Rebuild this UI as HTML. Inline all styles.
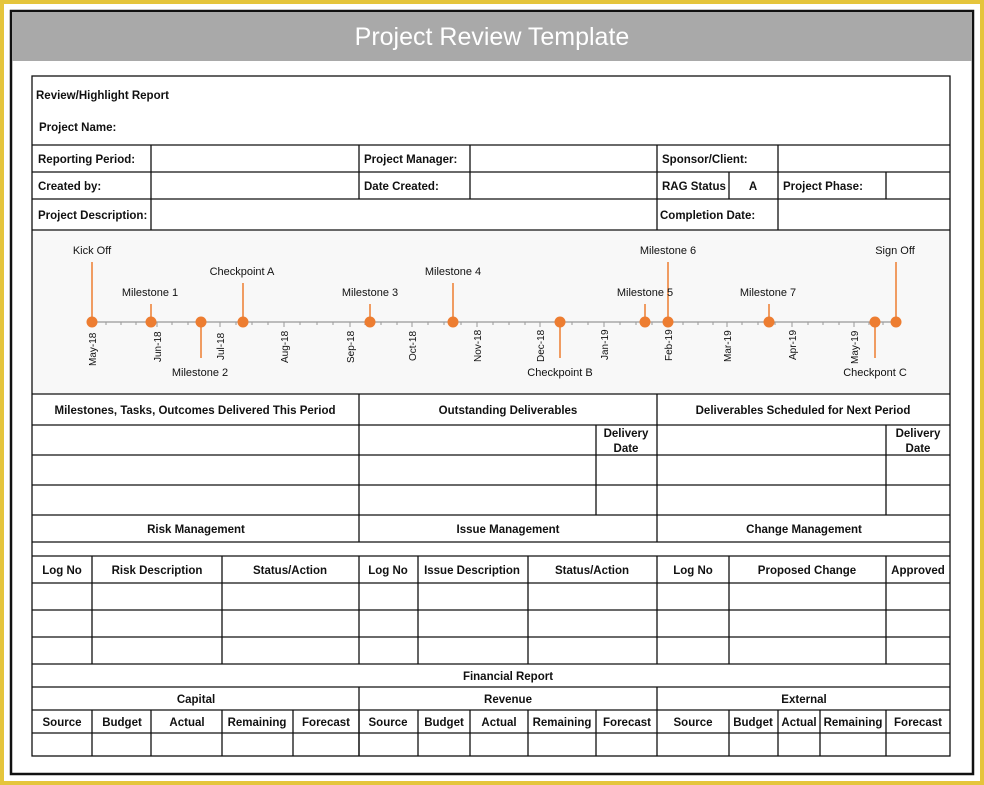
<!DOCTYPE html>
<html><head><meta charset="utf-8"><style>
html,body{margin:0;padding:0;background:#fff}
svg{display:block}
text{font-family:"Liberation Sans",sans-serif;fill:#111}
.b{font-weight:bold;font-size:11.5px}
.c{text-anchor:middle}
.t{font-size:11px;fill:#222}
.m{font-size:10px;fill:#333}
</style></head><body>
<svg width="984" height="785" viewBox="0 0 984 785" xmlns="http://www.w3.org/2000/svg">
<rect x="0" y="0" width="984" height="785" fill="#e5c53c"/>
<rect x="4" y="4" width="976" height="777" fill="#fff"/>
<rect x="11" y="11" width="962" height="763" fill="#fff" stroke="#111" stroke-width="2.5"/>
<rect x="12" y="12" width="960" height="49" fill="#a9a9a9"/>
<text x="492" y="45" class="c" style="font-size:25px;fill:#fff">Project Review Template</text>

<rect x="32" y="230" width="918" height="164" fill="#f8f8f8"/>
<g stroke="#111" stroke-width="1.3" fill="none">
<rect x="32" y="76" width="918" height="680"/>
<path d="M32 145H950M32 172H950M32 199H950M32 230H950M32 394H950M32 425H950M32 455H950M32 485H950M32 515H950M32 542H950M32 556H950M32 583H950M32 610H950M32 637H950M32 664H950M32 687H950M32 710H950M32 733H950"/>
<path d="M151 145V230M359 145V199M470 145V199M657 145V230M778 145V230M729 172V199M886 172V199"/>
<path d="M359 394V542M657 394V542M596 425V515M886 425V515"/>
<path d="M92 556V664M222 556V664M359 556V664M418 556V664M528 556V664M657 556V664M729 556V664M886 556V664"/>
<path d="M359 687V756M657 687V756"/>
<path d="M92 710V756M151 710V756M222 710V756M293 710V756M359 710V756M418 710V756M470 710V756M528 710V756M596 710V756M729 710V756M778 710V756M820 710V756M886 710V756"/>
</g>

<text x="36" y="99" class="b">Review/Highlight Report</text>
<text x="39" y="131" class="b">Project Name:</text>
<text x="38" y="163" class="b">Reporting Period:</text>
<text x="364" y="163" class="b">Project Manager:</text>
<text x="662" y="163" class="b">Sponsor/Client:</text>
<text x="38" y="190" class="b">Created by:</text>
<text x="364" y="190" class="b">Date Created:</text>
<text x="662" y="190" class="b">RAG Status</text>
<text x="753" y="190" class="b c">A</text>
<text x="783" y="190" class="b">Project Phase:</text>
<text x="38" y="219" class="b">Project Description:</text>
<text x="660" y="219" class="b">Completion Date:</text>

<g stroke="#999" stroke-width="1.2">
<line x1="92" y1="322" x2="897" y2="322"/>
</g>
<g stroke="#999" stroke-width="1">
<path d="M92 322v5M157 322v5M220 322v5M284 322v5M350 322v5M412 322v5M477 322v5M540 322v5M604 322v5M668 322v5M727 322v5M792 322v5M854 322v5"/>
<path d="M106 322v3M121 322v3M136 322v3M172 322v3M188 322v3M204 322v3M236 322v3M252 322v3M268 322v3M300 322v3M317 322v3M333 322v3M365 322v3M381 322v3M397 322v3M428 322v3M444 322v3M461 322v3M493 322v3M509 322v3M525 322v3M556 322v3M572 322v3M588 322v3M620 322v3M636 322v3M652 322v3M683 322v3M698 322v3M713 322v3M742 322v3M758 322v3M775 322v3M808 322v3M823 322v3M839 322v3M869 322v3M883 322v3"/>
</g>
<g class="m">
<text transform="translate(96,366) rotate(-90)">May-18</text>
<text transform="translate(161,362) rotate(-90)">Jun-18</text>
<text transform="translate(224,360) rotate(-90)">Jul-18</text>
<text transform="translate(288,363) rotate(-90)">Aug-18</text>
<text transform="translate(354,363) rotate(-90)">Sep-18</text>
<text transform="translate(416,361) rotate(-90)">Oct-18</text>
<text transform="translate(481,362) rotate(-90)">Nov-18</text>
<text transform="translate(544,362) rotate(-90)">Dec-18</text>
<text transform="translate(608,360) rotate(-90)">Jan-19</text>
<text transform="translate(672,361) rotate(-90)">Feb-19</text>
<text transform="translate(731,362) rotate(-90)">Mar-19</text>
<text transform="translate(796,360) rotate(-90)">Apr-19</text>
<text transform="translate(858,364) rotate(-90)">May-19</text>
</g>
<g stroke="#ed7d31" stroke-width="1.5">
<path d="M92 262V322M151 304V322M201 322V358M243 283V322M370 304V322M453 283V322M560 322V358M645 304V322M668 262V322M769 304V322M875 322V358M896 262V322"/>
</g>
<g fill="#ed7d31">
<circle cx="92" cy="322" r="5.5"/><circle cx="151" cy="322" r="5.5"/><circle cx="201" cy="322" r="5.5"/><circle cx="243" cy="322" r="5.5"/><circle cx="370" cy="322" r="5.5"/><circle cx="453" cy="322" r="5.5"/><circle cx="560" cy="322" r="5.5"/><circle cx="645" cy="322" r="5.5"/><circle cx="668" cy="322" r="5.5"/><circle cx="769" cy="322" r="5.5"/><circle cx="875" cy="322" r="5.5"/><circle cx="896" cy="322" r="5.5"/>
</g>
<g class="t c">
<text x="92" y="254">Kick Off</text>
<text x="150" y="296">Milestone 1</text>
<text x="200" y="376">Milestone 2</text>
<text x="242" y="275">Checkpoint A</text>
<text x="370" y="296">Milestone 3</text>
<text x="453" y="275">Milestone 4</text>
<text x="560" y="376">Checkpoint B</text>
<text x="645" y="296">Milestone 5</text>
<text x="668" y="254">Milestone 6</text>
<text x="768" y="296">Milestone 7</text>
<text x="875" y="376">Checkpont C</text>
<text x="895" y="254">Sign Off</text>
</g>

<g class="b c">
<text x="195" y="414">Milestones, Tasks, Outcomes Delivered This Period</text>
<text x="508" y="414">Outstanding Deliverables</text>
<text x="803" y="414">Deliverables Scheduled for Next Period</text>
<text x="626" y="437">Delivery</text>
<text x="626" y="452">Date</text>
<text x="918" y="437">Delivery</text>
<text x="918" y="452">Date</text>
<text x="196" y="533">Risk Management</text>
<text x="508" y="533">Issue Management</text>
<text x="804" y="533">Change Management</text>
<text x="62" y="574">Log No</text>
<text x="157" y="574">Risk Description</text>
<text x="290" y="574">Status/Action</text>
<text x="388" y="574">Log No</text>
<text x="472" y="574">Issue Description</text>
<text x="592" y="574">Status/Action</text>
<text x="693" y="574">Log No</text>
<text x="807" y="574">Proposed Change</text>
<text x="918" y="574">Approved</text>
<text x="508" y="680">Financial Report</text>
<text x="196" y="703">Capital</text>
<text x="508" y="703">Revenue</text>
<text x="804" y="703">External</text>
<text x="62" y="726">Source</text>
<text x="122" y="726">Budget</text>
<text x="187" y="726">Actual</text>
<text x="257" y="726">Remaining</text>
<text x="326" y="726">Forecast</text>
<text x="388" y="726">Source</text>
<text x="444" y="726">Budget</text>
<text x="499" y="726">Actual</text>
<text x="562" y="726">Remaining</text>
<text x="627" y="726">Forecast</text>
<text x="693" y="726">Source</text>
<text x="753" y="726">Budget</text>
<text x="799" y="726">Actual</text>
<text x="853" y="726">Remaining</text>
<text x="918" y="726">Forecast</text>
</g>
</svg>
</body></html>
